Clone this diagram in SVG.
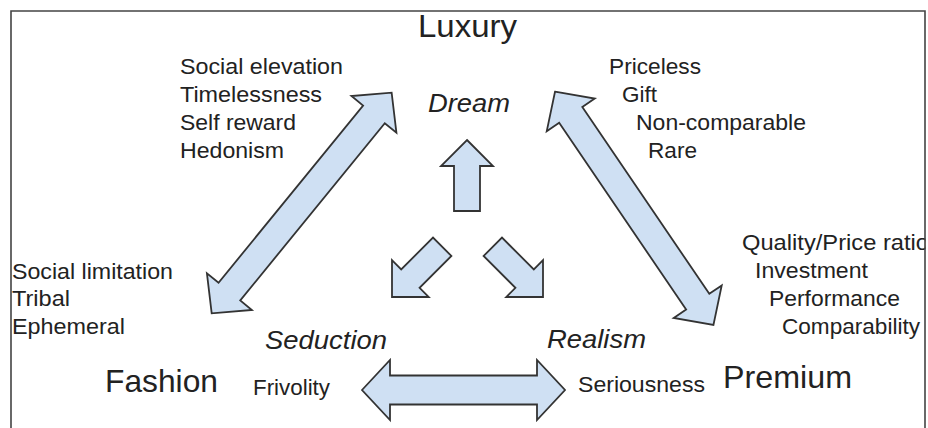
<svg xmlns="http://www.w3.org/2000/svg" width="928" height="428" viewBox="0 0 928 428">
  <style>
    text { font-family: "Liberation Sans", Arial, sans-serif; fill: #222; }
    .big { font-size: 32px; }
    .mode { font-size: 26px; font-style: italic; }
    .item { font-size: 22.5px; }
    .arrow { fill: #cfe0f3; stroke: #333; stroke-width: 1.8; stroke-linejoin: miter; }
  </style>
  <defs>
    <!-- single block arrow, tip at origin, pointing up -->
    <path id="single" d="M0,0 L26,26 L13,26 L13,71 L-13,71 L-13,26 L-26,26 Z"/>
  </defs>
  <rect width="928" height="428" fill="#fff"/>

  <g id="connectors">
    <!-- Fashion <-> Luxury -->
    <path class="arrow" transform="translate(211.7,313.3) rotate(-50.8)" d="M0,0 L28,-29 L28,-14 L256.7,-14 L256.7,-29 L284.7,0 L256.7,29 L256.7,14 L28,14 L28,29 Z"/>
    <!-- Luxury <-> Premium -->
    <path class="arrow" transform="translate(555,91.7) rotate(55.8)" d="M0,0 L28,-29 L28,-14 L253.9,-14 L253.9,-29 L281.9,0 L253.9,29 L253.9,14 L28,14 L28,29 Z"/>
    <!-- Seduction <-> Realism -->
    <path class="arrow" transform="translate(362,390)" d="M0,0 L28,-30 L28,-14.5 L175,-14.5 L175,-30 L203,0 L175,30 L175,14.5 L28,14.5 L28,30 Z"/>
    <!-- central arrows -->
    <use href="#single" class="arrow" transform="translate(467,140)"/>
    <use href="#single" class="arrow" transform="translate(392,297) rotate(-135)"/>
    <use href="#single" class="arrow" transform="translate(543,297) rotate(135)"/>
  </g>

  <g id="luxury">
    <text class="big" x="418" y="37" textLength="99" lengthAdjust="spacingAndGlyphs">Luxury</text>
  </g>
  <g id="fashion">
    <text class="big" x="105" y="392" textLength="113" lengthAdjust="spacingAndGlyphs">Fashion</text>
  </g>
  <g id="premium">
    <text class="big" x="723" y="388" textLength="129" lengthAdjust="spacingAndGlyphs">Premium</text>
  </g>

  <g id="dream">
    <text class="mode" x="428" y="112" textLength="82" lengthAdjust="spacingAndGlyphs">Dream</text>
  </g>
  <g id="seduction">
    <text class="mode" x="265" y="349" textLength="122" lengthAdjust="spacingAndGlyphs">Seduction</text>
  </g>
  <g id="realism">
    <text class="mode" x="547" y="348" textLength="99" lengthAdjust="spacingAndGlyphs">Realism</text>
  </g>

  <g id="luxury-fashion-traits">
    <text class="item" x="180" y="74" textLength="163" lengthAdjust="spacingAndGlyphs">Social elevation</text>
    <text class="item" x="180" y="102" textLength="142" lengthAdjust="spacingAndGlyphs">Timelessness</text>
    <text class="item" x="180" y="129.5" textLength="116" lengthAdjust="spacingAndGlyphs">Self reward</text>
    <text class="item" x="180" y="157.5" textLength="104" lengthAdjust="spacingAndGlyphs">Hedonism</text>
  </g>
  <g id="luxury-premium-traits">
    <text class="item" x="609" y="73.5" textLength="92" lengthAdjust="spacingAndGlyphs">Priceless</text>
    <text class="item" x="622" y="101.5" textLength="35" lengthAdjust="spacingAndGlyphs">Gift</text>
    <text class="item" x="636" y="129.5" textLength="170" lengthAdjust="spacingAndGlyphs">Non-comparable</text>
    <text class="item" x="648" y="157.5" textLength="49" lengthAdjust="spacingAndGlyphs">Rare</text>
  </g>
  <g id="fashion-traits">
    <text class="item" x="12" y="278.5" textLength="161" lengthAdjust="spacingAndGlyphs">Social limitation</text>
    <text class="item" x="12" y="306" textLength="58" lengthAdjust="spacingAndGlyphs">Tribal</text>
    <text class="item" x="12" y="333.5" textLength="113" lengthAdjust="spacingAndGlyphs">Ephemeral</text>
  </g>
  <g id="premium-traits">
    <text class="item" x="742" y="249.5" textLength="187" lengthAdjust="spacingAndGlyphs">Quality/Price ratio</text>
    <text class="item" x="755" y="277.5" textLength="113" lengthAdjust="spacingAndGlyphs">Investment</text>
    <text class="item" x="769" y="306" textLength="131" lengthAdjust="spacingAndGlyphs">Performance</text>
    <text class="item" x="782" y="333.5" textLength="138" lengthAdjust="spacingAndGlyphs">Comparability</text>
  </g>
  <g id="axis-labels">
    <text class="item" x="253" y="395" textLength="77" lengthAdjust="spacingAndGlyphs">Frivolity</text>
    <text class="item" x="578" y="392" textLength="127" lengthAdjust="spacingAndGlyphs">Seriousness</text>
  </g>

  <!-- outer frame, open at the bottom -->
  <rect x="925.5" y="0" width="3" height="428" fill="#fff"/>
  <path d="M11,428 V11 H925 V428" fill="none" stroke="#444" stroke-width="1.6"/>
</svg>
